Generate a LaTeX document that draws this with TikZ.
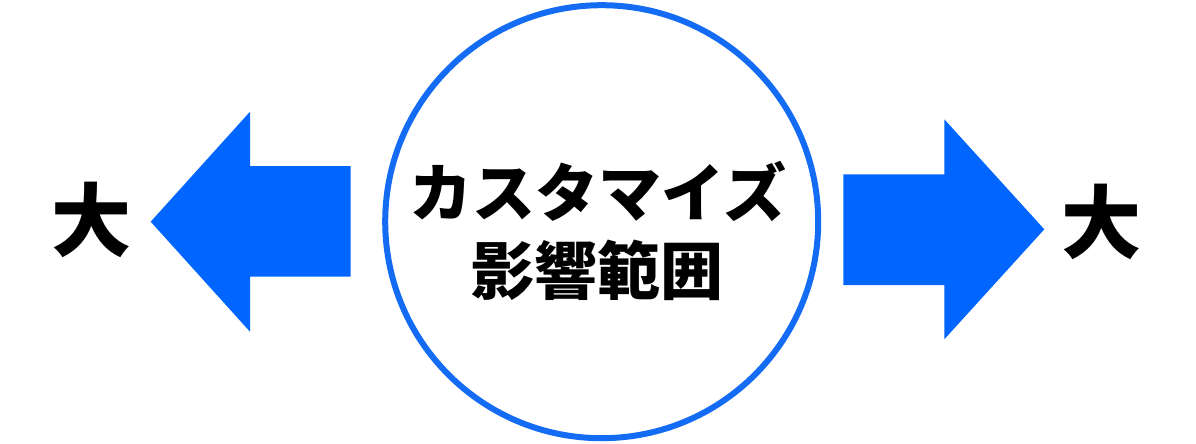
\documentclass[tikz,border=0pt]{standalone}
\usepackage{fontspec}
\newfontfamily\jp{Noto Sans CJK JP}
\definecolor{arrowblue}{RGB}{0,102,255}
\definecolor{ringblue}{RGB}{20,108,245}
\begin{document}
\begin{tikzpicture}[x=1pt,y=-1pt,
  bigarrow/.style={fill=arrowblue,draw=none},
  ring/.style={circle,draw=ringblue,line width=6pt,minimum size=433pt,inner sep=0pt},
  jptext/.style={font=\jp\bfseries\fontsize{63pt}{70pt}\selectfont,inner sep=0pt,text=black},
  bigtext/.style={font=\jp\bfseries\fontsize{80pt}{88pt}\selectfont,inner sep=0pt,text=black}]
\useasboundingbox (0,0) rectangle (1196,444);
\fill[white] (0,0) rectangle (1196,444);
% left arrow
\fill[bigarrow] (150.7,221.7) -- (250,111.7) -- (250,166) -- (350.7,166)
  -- (350.7,276.7) -- (250,276.7) -- (250,331.7) -- cycle;
% right arrow
\fill[bigarrow] (1044.3,229.3) -- (944.3,119.3) -- (944.3,174.3) -- (843.3,174.3)
  -- (843.3,285) -- (944.3,285) -- (944.3,339.3) -- cycle;
% circle
\node[ring] (c) at (601.7,221.7) {};
\node[jptext] (t1) at (598,191.5) {カスタマイズ};
\node[jptext] (t2) at (597,270) {影響範囲};
\node[bigtext] (l) at (91.3,220.3) {大};
\node[bigtext] (r) at (1101.5,222.2) {大};
\end{tikzpicture}
\end{document}
